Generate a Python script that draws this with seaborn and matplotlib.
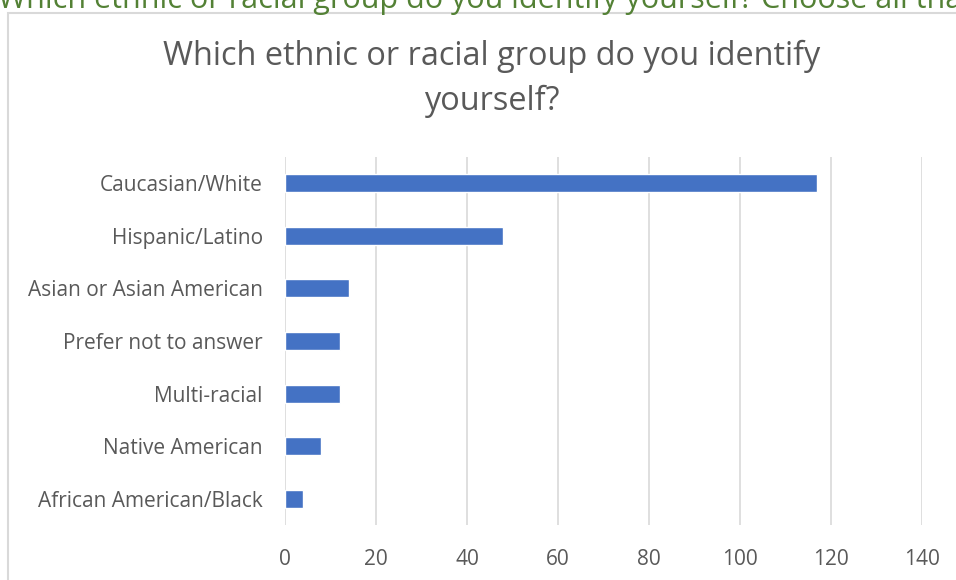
import matplotlib
matplotlib.use('Agg')
import matplotlib.pyplot as plt
import seaborn as sns
import pandas as pd
from matplotlib.patches import Rectangle

groups = ['Caucasian/White', 'Hispanic/Latino', 'Asian or Asian American',
          'Prefer not to answer', 'Multi-racial', 'Native American',
          'African American/Black']
counts = [117, 48, 14, 12, 12, 8, 4]
x_ticks = [0, 20, 40, 60, 80, 100, 120, 140]

sns.set_style('white')
plt.rcParams['font.family'] = ['Open Sans', 'DejaVu Sans']

df = pd.DataFrame({'group': groups, 'count': counts})

W, H = 956, 580
fig = plt.figure(figsize=(W / 100, H / 100), dpi=100)
ax = fig.add_axes([285 / W, 1 - 525 / H, (922 - 285) / W, (525 - 157) / H])

sns.barplot(data=df, x='count', y='group', orient='h', color='#4472C4',
            width=0.34, saturation=1, ax=ax)

ax.set_xlim(0, 140)
ax.set_ylim(6.5, -0.5)
ax.set_xticks(x_ticks)
ax.set_xlabel('')
ax.set_ylabel('')
ax.grid(axis='x', color='#d9d9d9', linewidth=1.2)
ax.set_axisbelow(True)
for s in ax.spines.values():
    s.set_visible(False)
ax.tick_params(axis='both', length=0, labelsize=15, labelcolor='#595959')
ax.tick_params(axis='x', pad=17)
ax.tick_params(axis='y', pad=16)

# chart frame
fig.patches.append(Rectangle((8 / W, -0.1), 1.1, 1 - 13 / H + 0.1,
                             transform=fig.transFigure, fill=False,
                             edgecolor='#d9d9d9', linewidth=1.5))

fig.text(492 / W, 1 - 79 / H,
         'Which ethnic or racial group do you identify\nyourself?',
         ha='center', va='center', fontsize=23.4, color='#595959',
         linespacing=1.45)

# heading from the surrounding document, cut off at the top
fig.text(-2 / W, 1 - 8 / H,
         'Which ethnic or racial group do you identify yourself? Choose all that apply.',
         ha='left', va='baseline', fontsize=22, color='#538135')

fig.savefig('out.png', dpi=100)
